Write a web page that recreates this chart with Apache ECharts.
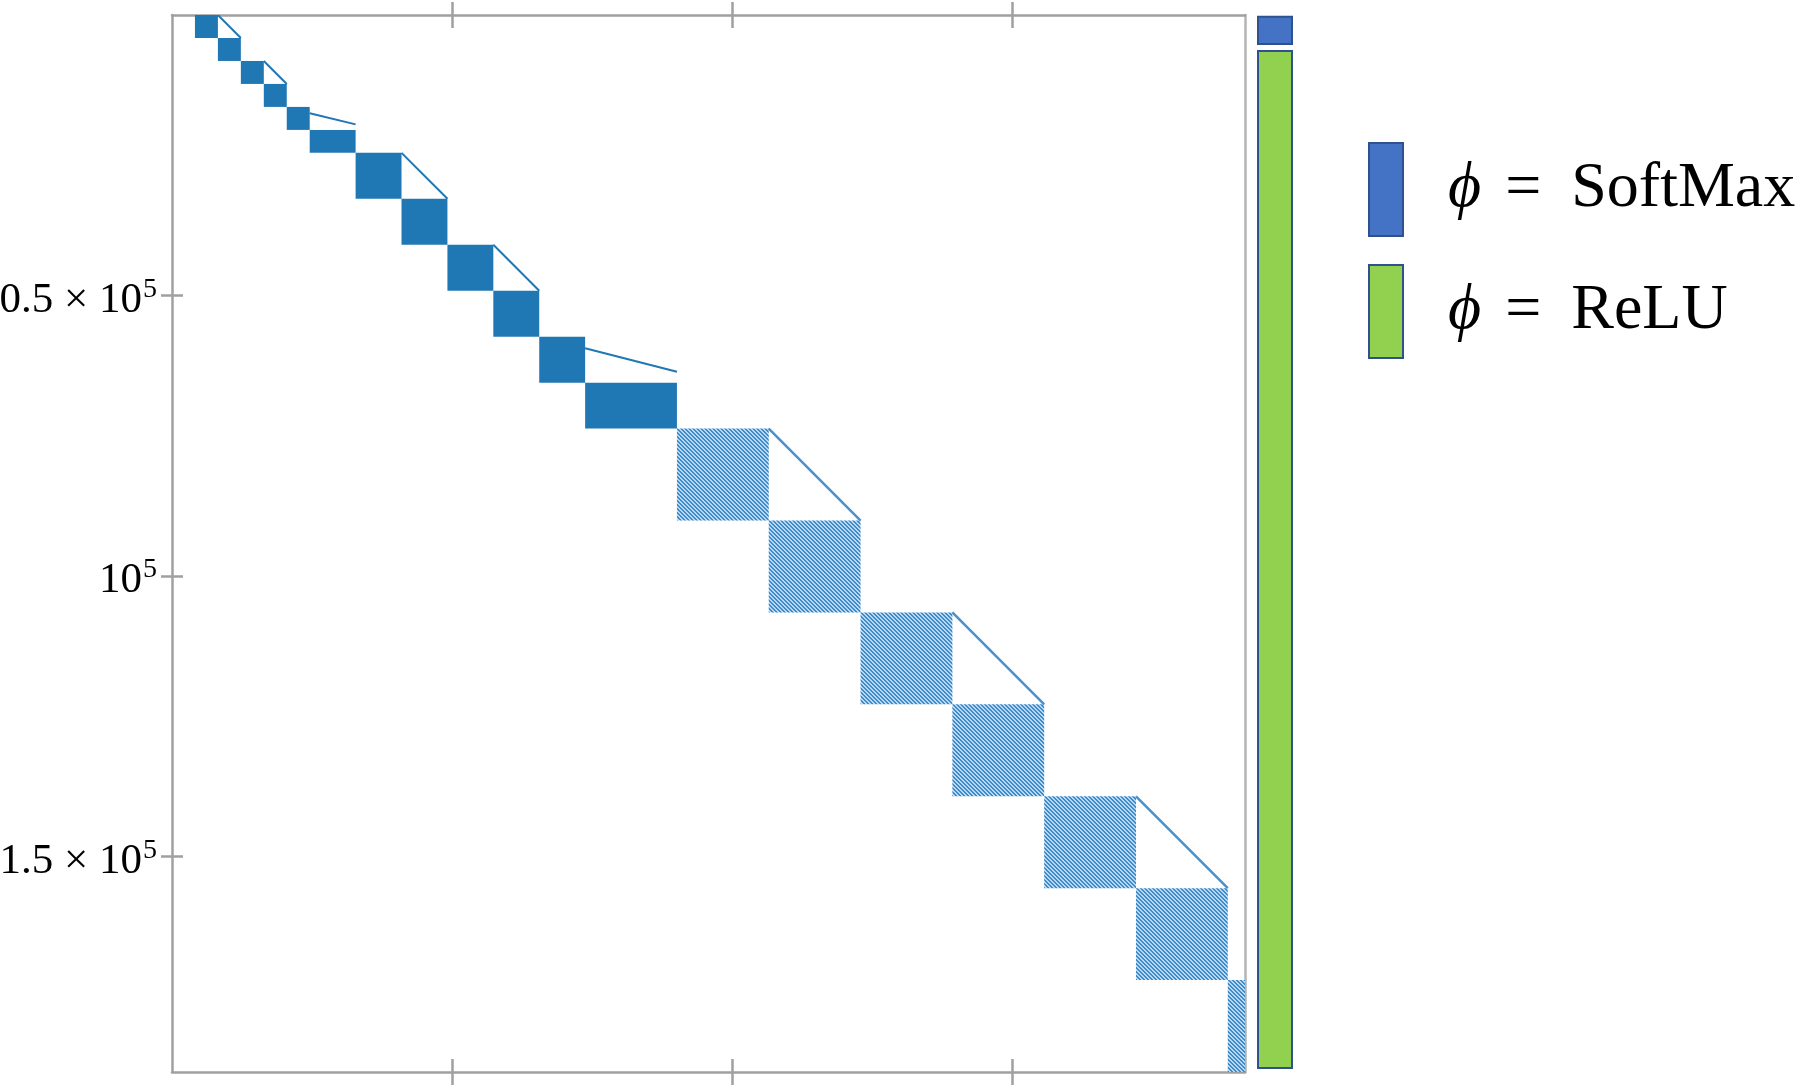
<!DOCTYPE html>
<html>
<head>
<meta charset="utf-8">
<script src="https://cdn.jsdelivr.net/npm/echarts@6/dist/echarts.min.js"></script>
<style>
html, body { margin: 0; padding: 0; background: #fff; }
#myChart { width: 1806px; height: 1087px; }
</style>
</head>
<body>
<div id="myChart"></div>
<script>
// matrix size
var rowCount = 188416
var colCount = 191488

// blocks: [colStart, colEnd, rowStart, rowEnd]
var solidBlocks = [
  [4096, 8192, 0, 4096],
  [8192, 12288, 4096, 8192],
  [12288, 16384, 8192, 12288],
  [16384, 20480, 12288, 16384],
  [20480, 24576, 16384, 20480],
  [24576, 32768, 20480, 24576],
  [32768, 40960, 24576, 32768],
  [40960, 49152, 32768, 40960],
  [49152, 57344, 40960, 49152],
  [57344, 65536, 49152, 57344],
  [65536, 73728, 57344, 65536],
  [73728, 90112, 65536, 73728]
]
var hatchedBlocks = [
  [90112, 106496, 73728, 90112],
  [106496, 122880, 90112, 106496],
  [122880, 139264, 106496, 122880],
  [139264, 155648, 122880, 139264],
  [155648, 172032, 139264, 155648],
  [172032, 188416, 155648, 172032],
  [188416, 191488, 172032, 188416]
]
// triangle edges: [col0, row0, col1, row1]
var solidEdges = [
  [8192, 0, 12288, 4096],
  [16384, 8192, 20480, 12288],
  [24576, 17500, 32768, 19500],
  [40960, 24576, 49152, 32768],
  [57344, 40960, 65536, 49152],
  [73728, 59400, 90112, 63600]
]
var hatchedEdges = [
  [106496, 73728, 122880, 90112],
  [139264, 106496, 155648, 122880],
  [172032, 139264, 188416, 155648]
]

var tickValues = [50000, 100000, 150000]
var yTickLabels = ['0.5 × 10', '10', '1.5 × 10']
var yTickExponent = '5'

// activation bar on the right
var sideNames = ['SoftMax', 'ReLU']
var sideFrom = [300, 6400]
var sideTo = [5170, 187700]
var sideColors = ['#4472c4', '#92d050']

var serif = 'Liberation Serif, DejaVu Serif, serif'
var axisGray = '#a0a0a0'

// hatch pattern tile
function makeHatch() {
  var c = document.createElement('canvas')
  c.width = 4
  c.height = 4
  var ctx = c.getContext('2d')
  ctx.fillStyle = '#b8d7f0'
  ctx.fillRect(0, 0, 4, 4)
  ctx.fillStyle = '#3f8ac8'
  for (var i = 0; i < 4; i++) {
    ctx.fillRect(i, i, 1, 1)
    ctx.fillRect((i + 1) % 4, i, 1, 1)
  }
  return c
}
var hatch = makeHatch()

function rectItem(fill) {
  return function (params, api) {
    var p0 = api.coord([api.value(0), api.value(2)])
    var p1 = api.coord([api.value(1), api.value(3)])
    return {
      type: 'rect',
      shape: { x: p0[0], y: p0[1], width: p1[0] - p0[0], height: p1[1] - p0[1] },
      style: { fill: fill }
    }
  }
}
function lineItem(color, width) {
  return function (params, api) {
    var p0 = api.coord([api.value(0), api.value(1)])
    var p1 = api.coord([api.value(2), api.value(3)])
    return {
      type: 'line',
      shape: { x1: p0[0], y1: p0[1], x2: p1[0], y2: p1[1] },
      style: { stroke: color, lineWidth: width }
    }
  }
}

function xAx(pos, inside, line) {
  return {
    gridIndex: 0, type: 'value', position: pos, min: 0, max: colCount,
    axisLine: { show: line, onZero: false, lineStyle: { color: axisGray, width: 2.5 } },
    axisTick: { show: true, inside: inside, length: 13, customValues: tickValues, lineStyle: { color: axisGray, width: 2.5 } },
    axisLabel: { show: false },
    splitLine: { show: false }
  }
}

var sideSeries = sideNames.map(function (name, i) {
  return {
    name: name,
    type: 'custom',
    xAxisIndex: 4,
    yAxisIndex: 3,
    itemStyle: { color: sideColors[i], borderColor: '#2f528f', borderWidth: 2 },
    renderItem: function (params, api) {
      var p0 = api.coord([api.value(0), api.value(2)])
      var p1 = api.coord([api.value(1), api.value(3)])
      return {
        type: 'rect',
        shape: { x: p0[0], y: p0[1], width: p1[0] - p0[0], height: p1[1] - p0[1] },
        style: { fill: sideColors[i], stroke: '#2f528f', lineWidth: 2 }
      }
    },
    data: [[0, 1, sideFrom[i], sideTo[i]]]
  }
})

var myChart = echarts.init(document.getElementById('myChart'))
myChart.setOption({
  animation: false,
  backgroundColor: '#fff',
  grid: [
    { left: 172, top: 15, width: 1073, height: 1057, outerBoundsMode: 'none', containLabel: false },
    { left: 1258, top: 15, width: 34, height: 1057, outerBoundsMode: 'none', containLabel: false }
  ],
  xAxis: [
    xAx('top', false, true),
    xAx('top', true, false),
    xAx('bottom', false, true),
    xAx('bottom', true, false),
    { gridIndex: 1, type: 'value', min: 0, max: 1, show: false }
  ],
  yAxis: [
    {
      gridIndex: 0, type: 'value', position: 'left', inverse: true, min: 0, max: rowCount,
      axisLine: { show: true, onZero: false, lineStyle: { color: axisGray, width: 2.5 } },
      axisTick: { show: true, length: 11, customValues: tickValues, lineStyle: { color: axisGray, width: 2.5 } },
      axisLabel: {
        show: true, margin: 15, customValues: tickValues,
        formatter: function (v) {
          var i = tickValues.indexOf(v)
          return '{b|' + yTickLabels[i] + '}{s|' + yTickExponent + '}'
        },
        rich: {
          b: { fontFamily: serif, fontSize: 43, color: '#000', lineHeight: 48, padding: [10, 0, 0, 0] },
          s: { fontFamily: serif, fontSize: 28, color: '#000', lineHeight: 28, verticalAlign: 'top', padding: [4, 0, 0, 1] }
        }
      },
      splitLine: { show: false }
    },
    {
      gridIndex: 0, type: 'value', position: 'left', inverse: true, min: 0, max: rowCount,
      axisLine: { show: false, onZero: false },
      axisTick: { show: true, inside: true, length: 11, customValues: tickValues, lineStyle: { color: axisGray, width: 2.5 } },
      axisLabel: { show: false },
      splitLine: { show: false }
    },
    {
      gridIndex: 0, type: 'value', position: 'right', inverse: true, min: 0, max: rowCount,
      axisLine: { show: true, onZero: false, lineStyle: { color: '#b4b4b4', width: 2.5 } },
      axisTick: { show: false },
      axisLabel: { show: false },
      splitLine: { show: false }
    },
    { gridIndex: 1, type: 'value', inverse: true, min: 0, max: rowCount, show: false }
  ],
  legend: {
    orient: 'vertical',
    left: 1368,
    top: 142,
    padding: 0,
    itemWidth: 34,
    itemHeight: 93,
    itemGap: 27,
    icon: 'rect',
    selectedMode: false,
    data: sideNames.map(function (name, i) {
      return { name: name, itemStyle: { color: sideColors[i], borderColor: '#2f528f', borderWidth: 2 } }
    }),
    formatter: function (name) {
      return '{phi|ϕ}{eq|=}{t|' + name + '}'
    },
    textStyle: {
      rich: {
        phi: { fontFamily: serif, fontStyle: 'italic', fontSize: 64, color: '#000', padding: [0, 0, 0, 40] },
        eq: { fontFamily: serif, fontSize: 64, color: '#000', padding: [0, 30, 0, 24] },
        t: { fontFamily: serif, fontSize: 64, color: '#000' }
      }
    }
  },
  series: [
    { type: 'custom', name: 'solid', xAxisIndex: 0, yAxisIndex: 0, clip: true, renderItem: rectItem('#1f77b4'), data: solidBlocks },
    { type: 'custom', name: 'hatched', xAxisIndex: 0, yAxisIndex: 0, clip: true, renderItem: rectItem({ image: hatch, repeat: 'repeat' }), data: hatchedBlocks },
    { type: 'custom', name: 'solidEdges', xAxisIndex: 0, yAxisIndex: 0, clip: true, renderItem: lineItem('#1f77b4', 2), data: solidEdges },
    { type: 'custom', name: 'hatchedEdges', xAxisIndex: 0, yAxisIndex: 0, clip: true, renderItem: lineItem('#4a90cc', 2.5), data: hatchedEdges }
  ].concat(sideSeries)
})
</script>
</body>
</html>
